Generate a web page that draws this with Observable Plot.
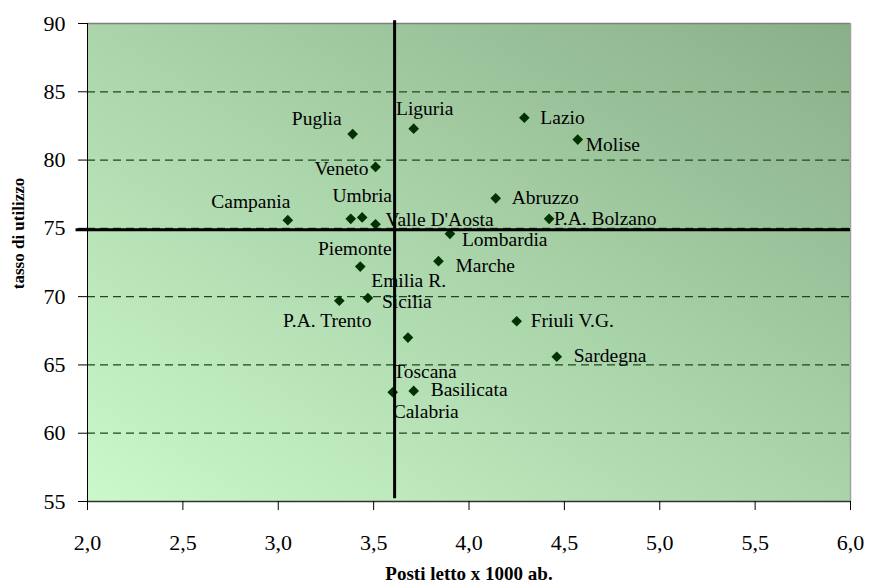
<!DOCTYPE html>
<html>
<head>
<meta charset="utf-8">
<script src="https://cdn.jsdelivr.net/npm/d3@7"></script>
<script src="https://cdn.jsdelivr.net/npm/@observablehq/plot@0.6"></script>
<style>
  html, body { margin: 0; padding: 0; background: #fff; }
</style>
</head>
<body>
<div id="chart"></div>
<script>
// Regional hospital beds per 1000 inhabitants vs. bed occupancy rate
const regions = [
  "Puglia", "Liguria", "Veneto", "Campania", "Umbria", "Valle D'Aosta", "Piemonte",
  "Lazio", "Molise", "Abruzzo", "P.A. Bolzano", "Lombardia", "Marche", "Emilia R.",
  "Sicilia", "P.A. Trento", "Toscana", "Friuli V.G.", "Sardegna", "Calabria", "Basilicata"
];
const postiLetto = [
  3.39, 3.71, 3.51, 3.05, 3.44, 3.51, 3.38,
  4.29, 4.57, 4.14, 4.42, 3.90, 3.84, 3.43,
  3.47, 3.32, 3.68, 4.25, 4.46, 3.60, 3.71
];
const tassoUtilizzo = [
  81.9, 82.3, 79.5, 75.6, 75.8, 75.3, 75.7,
  83.1, 81.5, 77.2, 75.7, 74.6, 72.6, 72.2,
  69.9, 69.7, 67.0, 68.2, 65.6, 63.0, 63.1
];

// reference values (averages) drawn as the crossing lines
const mediaPosti = 3.61;
const mediaTasso = 74.9;

const xTicks = [2.0, 2.5, 3.0, 3.5, 4.0, 4.5, 5.0, 5.5, 6.0];
const yTicks = [55, 60, 65, 70, 75, 80, 85, 90];
const gridValues = [60, 65, 70, 75, 80, 85];

const rows = regions.map((r, i) => ({region: r, posti: postiLetto[i], tasso: tassoUtilizzo[i]}));

// label placement: [textAnchor, dx, dy]
const labelPlacement = {
  "Puglia": ["end", -11, -15],
  "Liguria": ["middle", 11, -20],
  "Veneto": ["end", -7, 2],
  "Campania": ["middle", -37, -18],
  "Umbria": ["middle", 0, -22],
  "Valle D'Aosta": ["start", 10, -5],
  "Piemonte": ["middle", 4, 30],
  "Lazio": ["start", 16, 0],
  "Molise": ["start", 8, 5],
  "Abruzzo": ["start", 16, -1],
  "P.A. Bolzano": ["start", 5, 0],
  "Lombardia": ["start", 12, 6],
  "Marche": ["start", 17, 5],
  "Emilia R.": ["start", 11, 14],
  "Sicilia": ["start", 14, 4],
  "P.A. Trento": ["middle", -12, 20],
  "Toscana": ["middle", 17, 34],
  "Friuli V.G.": ["start", 14, 0],
  "Sardegna": ["start", 17, -1],
  "Calabria": ["middle", 33, 20],
  "Basilicata": ["start", 17, -1]
};

const serif = "'Liberation Serif', 'Times New Roman', serif";
const commaFmt = d => d.toFixed(1).replace(".", ",");

const labelMarks = rows.map(d => {
  const [anchor, dx, dy] = labelPlacement[d.region];
  return Plot.text([d], {
    x: "posti", y: "tasso", text: "region",
    textAnchor: anchor, dx, dy,
    fontSize: 19.5, fill: "black", fontFamily: serif
  });
});

const chart = Plot.plot({
  width: 869,
  height: 583,
  marginLeft: 87,
  marginRight: 19,
  marginTop: 23,
  marginBottom: 82,
  style: {fontFamily: serif, fontSize: "22px", background: "white", color: "black"},
  x: {domain: [2, 6]},
  y: {domain: [55, 90]},
  marks: [
    Plot.frame({fill: "url(#plotBg)", stroke: null}),
    Plot.ruleY(gridValues, {stroke: "#1c4a1c", strokeWidth: 1.2, strokeDasharray: "8,5"}),
    Plot.ruleY([90], {stroke: "#808080", strokeWidth: 1.5}),
    Plot.ruleX([6], {stroke: "#a0a0a0", strokeWidth: 1.5}),
    Plot.ruleX([2], {stroke: "black", strokeWidth: 1}),
    Plot.ruleY([55], {stroke: "#333", strokeWidth: 1.5}),
    Plot.axisY(yTicks, {tickSize: 9, tickPadding: 13, fontSize: 22, label: null, tickFormat: d => String(d)}),
    Plot.axisX(xTicks, {tickSize: 9, tickPadding: 24, fontSize: 22, label: null, tickFormat: commaFmt}),
    Plot.dot(rows, {x: "posti", y: "tasso", symbol: "diamond2", r: 4.8, fill: "#003300", stroke: null}),
    ...labelMarks,
    Plot.ruleY([mediaTasso], {x1: 1.94, x2: 6, stroke: "black", strokeWidth: 3}),
    Plot.ruleX([mediaPosti], {y1: 90.2, y2: 55.2, stroke: "black", strokeWidth: 3}),
    Plot.text(["tasso di utilizzo"], {
      frameAnchor: "left", textAnchor: "middle", lineAnchor: "middle",
      rotate: -90, dx: -69, dy: -29,
      fontWeight: "bold", fontSize: 17, fontFamily: serif
    }),
    Plot.text(["Posti letto x 1000 ab."], {
      frameAnchor: "bottom", textAnchor: "middle", lineAnchor: "middle", dy: 72,
      fontWeight: "bold", fontSize: 19, fontFamily: serif
    })
  ]
});

// diagonal gradient behind the plotting area
const defs = d3.select(chart).insert("defs", ":first-child");
const grad = defs.append("linearGradient")
  .attr("id", "plotBg")
  .attr("x1", 0).attr("y1", 1).attr("x2", 1).attr("y2", 0);
grad.append("stop").attr("offset", "0%").attr("stop-color", "#cbf9cb");
grad.append("stop").attr("offset", "100%").attr("stop-color", "#89af89");

document.getElementById("chart").appendChild(chart);
</script>
</body>
</html>
